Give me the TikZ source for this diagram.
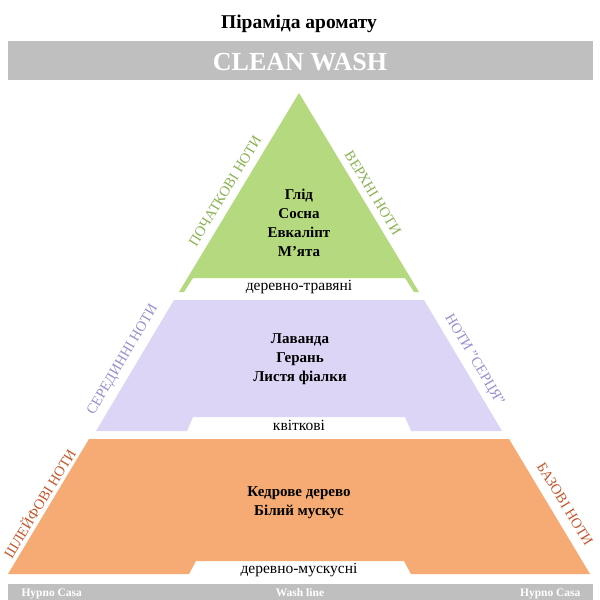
\documentclass[tikz,border=0pt]{standalone}
\usepackage{fontspec}
\setmainfont{Liberation Serif}
\usepackage{xcolor}
\definecolor{barre}{RGB}{191,191,191}
\definecolor{vert}{RGB}{181,217,126}
\definecolor{vertfonce}{RGB}{138,178,82}
\definecolor{mauve}{RGB}{221,213,246}
\definecolor{mauvefonce}{RGB}{155,143,207}
\definecolor{orange}{RGB}{245,171,115}
\definecolor{orangefonce}{RGB}{196,88,47}

\begin{document}
\begin{tikzpicture}[x=1pt, y=-1pt,
    titre/.style={font=\bfseries\fontsize{19.5}{22}\selectfont, anchor=base},
    note/.style={font=\bfseries\fontsize{15}{19}\selectfont, align=center},
    famille/.style={font=\fontsize{15.5}{18}\selectfont, anchor=base},
    cote/.style={font=\fontsize{14.5}{16}\selectfont, inner sep=0pt},
    pied/.style={font=\bfseries\fontsize{11.5}{13}\selectfont, text=white, anchor=base}]
    \useasboundingbox (0,0) rectangle (600,600);
    \fill[white] (0,0) rectangle (600,600);

    % Titre et bandeau
    \node[titre] (titre) at (299,28) {Піраміда аромату};
    \fill[barre] (8,41) rectangle (593,80);
    \node[font=\bfseries\fontsize{26}{30}\selectfont, text=white, anchor=base] (nom) at (300,70) {CLEAN WASH};

    % Le triangle vert
    \fill[vert] (299,93) -- (419,292) -- (414,292) -- (405,278) -- (193,278) -- (184,292) -- (179,292) -- cycle;
    \node[note] (tete) at (299,223) {Глід\\Сосна\\Евкаліпт\\М'ята};
    \node[famille] (bois) at (299,290) {деревно-травяні};
    \node[cote, text=vertfonce, rotate=58.7] (debut) at (225,191) {ПОЧАТКОВІ НОТИ};
    \node[cote, text=vertfonce, rotate=-58.7] (haut) at (373,193) {ВЕРХНІ НОТИ};

    % Le trapeze mauve
    \fill[mauve] (174,300) -- (424,300) -- (502,431) -- (411,431) -- (405,417) -- (193,417) -- (187,431) -- (96,431) -- cycle;
    \node[note] (coeur) at (300,359) {Лаванда\\Герань\\Листя фіалки};
    \node[famille] (fleur) at (299,430) {квіткові};
    \node[cote, text=mauvefonce, rotate=59.5] (milieu) at (123,360) {СЕРЕДИННІ НОТИ};
    \node[cote, text=mauvefonce, rotate=-59.5] (serce) at (474,360) {НОТИ "СЕРЦЯ"};

    % Le trapeze orange
    \fill[orange] (89,439) -- (509,439) -- (590,574) -- (411,574) -- (404,561) -- (196,561) -- (189,574) -- (8,574) -- cycle;
    \node[note] (fond) at (299,503) {Кедрове дерево\\Білий мускус};
    \node[famille] (musc) at (299,573) {деревно-мускусні};
    \node[cote, text=orangefonce, rotate=58.7] (trace) at (39,503) {ШЛЕЙФОВІ НОТИ};
    \node[cote, text=orangefonce, rotate=-58.7] (base) at (565,504) {БАЗОВІ НОТИ};

    % Pied de page
    \fill[barre] (8,584) rectangle (593,600);
    \node[pied, anchor=base west] (marque) at (18,596) {Hypno Casa};
    \node[pied] (ligne) at (300,596) {Wash line};
    \node[pied, anchor=base east] (marque2) at (584,596) {Hypno Casa};
\end{tikzpicture}
\end{document}
